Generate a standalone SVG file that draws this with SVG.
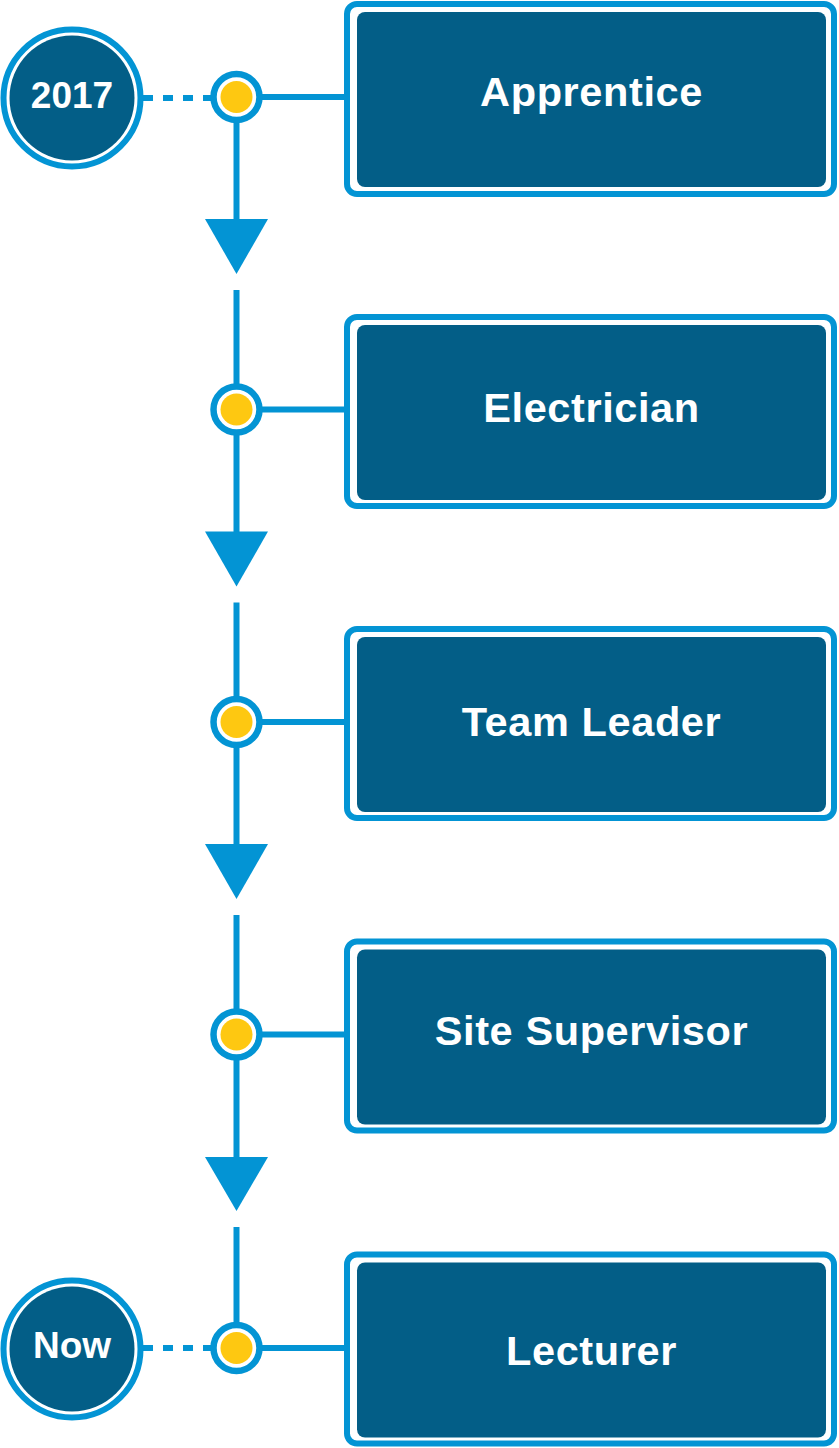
<svg xmlns="http://www.w3.org/2000/svg" width="839" height="1448" viewBox="0 0 839 1448">
<style>
.frame{fill:#ffffff;stroke:#0394D4;stroke-width:6}
.inner{fill:#035E87}
.lbl{fill:#ffffff;font-family:"Liberation Sans",Arial,sans-serif;font-weight:bold;font-size:41.5px;letter-spacing:0.6px;text-anchor:middle}
.yr{fill:#ffffff;font-family:"Liberation Sans",Arial,sans-serif;font-weight:bold;font-size:37px;text-anchor:middle}
.ln{stroke:#0394D4;stroke-width:6;fill:none}
.dash{stroke:#0394D4;stroke-width:6;fill:none;stroke-dasharray:10 10}
.arr{fill:#0394D4}
.ring{fill:#ffffff;stroke:#0394D4;stroke-width:6.5}
.dot{fill:#FEC811}
.yring{fill:#ffffff;stroke:#0394D4;stroke-width:6}
.ydark{fill:#035E87}
</style>
<g id="connectors">
<line class="dash" x1="143" y1="98" x2="212" y2="98"/>
<line class="dash" x1="143" y1="1348" x2="212" y2="1348"/>
<line class="ln" x1="236.5" y1="97" x2="236.5" y2="222"/>
<polygon class="arr" points="205,219 268,219 236.5,274"/>
<line class="ln" x1="236.5" y1="290" x2="236.5" y2="534"/>
<polygon class="arr" points="205,531.5 268,531.5 236.5,586.5"/>
<line class="ln" x1="236.5" y1="602.5" x2="236.5" y2="847"/>
<polygon class="arr" points="205,844 268,844 236.5,899"/>
<line class="ln" x1="236.5" y1="915" x2="236.5" y2="1160"/>
<polygon class="arr" points="205,1157 268,1157 236.5,1211"/>
<line class="ln" x1="236.5" y1="1227" x2="236.5" y2="1348"/>
<line class="ln" x1="236" y1="97" x2="346" y2="97"/>
<line class="ln" x1="236" y1="409.5" x2="346" y2="409.5"/>
<line class="ln" x1="236" y1="722" x2="346" y2="722"/>
<line class="ln" x1="236" y1="1034.5" x2="346" y2="1034.5"/>
<line class="ln" x1="236" y1="1348" x2="346" y2="1348"/>
</g>
<g id="start">
<circle class="yring" cx="72" cy="98" r="68.5"/>
<circle class="ydark" cx="72" cy="98" r="62.5"/>
<text class="yr" x="72" y="108">2017</text>
</g>
<g id="now">
<circle class="yring" cx="72" cy="1349" r="68.5"/>
<circle class="ydark" cx="72" cy="1349" r="62.5"/>
<text class="yr" x="72" y="1358">Now</text>
</g>
<g id="dot1"><circle class="ring" cx="236.5" cy="97" r="23"/><circle class="dot" cx="236.5" cy="97" r="16"/></g>
<g id="dot2"><circle class="ring" cx="236.5" cy="409.5" r="23"/><circle class="dot" cx="236.5" cy="409.5" r="16"/></g>
<g id="dot3"><circle class="ring" cx="236.5" cy="722" r="23"/><circle class="dot" cx="236.5" cy="722" r="16"/></g>
<g id="dot4"><circle class="ring" cx="236.5" cy="1034.5" r="23"/><circle class="dot" cx="236.5" cy="1034.5" r="16"/></g>
<g id="dot5"><circle class="ring" cx="236.5" cy="1348" r="23"/><circle class="dot" cx="236.5" cy="1348" r="16"/></g>
<g id="apprentice">
<rect class="frame" x="347" y="4" width="487" height="190" rx="10"/>
<rect class="inner" x="357" y="12" width="469" height="175" rx="8"/>
<text class="lbl" x="591.5" y="106">Apprentice</text>
</g>
<g id="electrician">
<rect class="frame" x="347" y="317" width="487" height="189" rx="10"/>
<rect class="inner" x="357" y="325" width="469" height="175" rx="8"/>
<text class="lbl" x="591.5" y="422">Electrician</text>
</g>
<g id="team-leader">
<rect class="frame" x="347" y="629" width="487" height="189" rx="10"/>
<rect class="inner" x="357" y="637" width="469" height="175" rx="8"/>
<text class="lbl" x="591.5" y="735.5">Team Leader</text>
</g>
<g id="site-supervisor">
<rect class="frame" x="347" y="941.5" width="487" height="189" rx="10"/>
<rect class="inner" x="357" y="949.5" width="469" height="175" rx="8"/>
<text class="lbl" x="591.5" y="1045">Site Supervisor</text>
</g>
<g id="lecturer">
<rect class="frame" x="347" y="1254.5" width="487" height="189" rx="10"/>
<rect class="inner" x="357" y="1262.5" width="469" height="175" rx="8"/>
<text class="lbl" x="591.5" y="1365">Lecturer</text>
</g>
</svg>
